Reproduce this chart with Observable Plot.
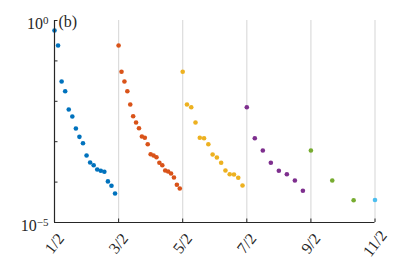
<!DOCTYPE html>
<html>
<head>
<meta charset="utf-8">
<script src="https://cdn.jsdelivr.net/npm/d3@7"></script>
<script src="https://cdn.jsdelivr.net/npm/@observablehq/plot@0.6"></script>
<style>
  html, body { margin: 0; padding: 0; background: #fff; }
</style>
</head>
<body>
<div id="chart"></div>
<script>
// x tick positions and labels
const xTickValues = [0.5, 1.5, 2.5, 3.5, 4.5, 5.5];
const xTickLabels = ["1/2", "3/2", "5/2", "7/2", "9/2", "11/2"];
const gridValues = [1.5, 2.5, 3.5, 4.5, 5.5];
// y ticks (every decade), labelled ends: base and exponent
const yTickValues = [1, 1e-1, 1e-2, 1e-3, 1e-4, 1e-5];
const yLabelTicks = [1, 1e-5];
const yLabelBase = ["10", "10"];
const yLabelExp = ["0", "−5"];
const panelLabel = "(b)";

// series: start position (group) and values
const groupStarts = [0.5, 1.5, 2.5, 3.5, 4.5, 5.5];
const groupColors = ["#0072BD", "#D95319", "#EDB120", "#7E2F8E", "#77AC30", "#4DBEEE"];
const seriesHalf1 = [0.565, 0.240, 0.0309, 0.0178, 0.00627, 0.00421, 0.00212, 0.00132, 0.000918,
  0.000455, 0.000305, 0.000262, 0.000205, 0.000191, 0.000180, 0.000104, 8.1e-5, 5.2e-5];
const seriesHalf3 = [0.240, 0.0537, 0.0309, 0.0178, 0.00834, 0.00428, 0.00299, 0.00216, 0.00135,
  0.00125, 0.000867, 0.000491, 0.000455, 0.000413, 0.000300, 0.000262, 0.000194, 0.000183,
  0.000163, 0.000130, 8.57e-5, 6.95e-5];
const seriesHalf5 = [0.0537, 0.00834, 0.00714, 0.00299, 0.00125, 0.00122, 0.000867, 0.000482,
  0.000406, 0.000300, 0.000194, 0.000157, 0.000154, 0.000128, 8.24e-5];
const seriesHalf7 = [0.00714, 0.00122, 0.000605, 0.000300, 0.000191, 0.000157, 0.000110, 6.09e-5];
const seriesHalf9 = [0.000605, 0.000110, 3.56e-5];
const seriesHalf11 = [3.6e-5];

const allSeries = [seriesHalf1, seriesHalf3, seriesHalf5, seriesHalf7, seriesHalf9, seriesHalf11];
const points = [];
allSeries.forEach((vals, g) => {
  vals.forEach((v, j) => {
    points.push({x: groupStarts[g] + j / vals.length, y: v, g});
  });
});

const W = 415, H = 260;
const mL = 54, mR = 40.5, mT = 20, mB = 38;
const plotW = W - mL - mR, plotH = H - mT - mB;
const serif = "'Liberation Serif', 'DejaVu Serif', serif";
const axisColor = "#262626";

const chart = Plot.plot({
  width: W, height: H,
  marginLeft: mL, marginRight: mR, marginTop: mT, marginBottom: mB,
  style: {fontFamily: serif, background: "#fff"},
  x: {domain: [0.5, 5.5], axis: null},
  y: {type: "log", domain: [1e-5, 1], axis: null},
  color: {domain: d3.range(groupColors.length), range: groupColors},
  marks: [
    Plot.ruleX(gridValues, {stroke: "#dcdcdc", strokeWidth: 1.2}),
    Plot.dot(points, {x: "x", y: "y", fill: "g", r: 2.3, stroke: null}),
    Plot.ruleX([0.5], {stroke: axisColor, strokeWidth: 1.2}),
    Plot.ruleY([1e-5], {stroke: axisColor, strokeWidth: 1.2}),
    Plot.tickY(yTickValues, {stroke: axisColor, strokeWidth: 1, insetRight: plotW - 3.5}),
    Plot.tickX(xTickValues, {stroke: axisColor, strokeWidth: 1, insetTop: plotH - 3.5}),
    Plot.text(yLabelTicks, {
      x: 0.5, y: d => d, text: (d, i) => yLabelBase[i] + "\u200B" + yLabelExp[i],
      textAnchor: "end", dx: -6, dy: 3, fontSize: 16, fill: "#262626", fontFamily: serif,
      className: "ylab"
    }),
    Plot.text(xTickValues, {
      x: d => d, y: 1e-5, text: (d, i) => xTickLabels[i],
      textAnchor: "middle", dy: 21, rotate: -52, fontSize: 16, fill: "#262626", fontFamily: serif
    }),
    Plot.text([panelLabel], {
      x: 0.5, y: 1, text: d => d, textAnchor: "start", dx: 4, dy: 1,
      fontSize: 16, fill: "#262626", fontFamily: serif
    })
  ]
});
chart.style.overflow = "visible";
document.getElementById("chart").append(chart);

// turn "10<exp>" labels into base + raised exponent (still real text)
d3.select(chart).selectAll("g.ylab text").each(function(d, i) {
  const t = d3.select(this);
  const [base, exp] = t.text().split("\u200B");
  t.text(null);
  t.append("tspan").text(base);
  t.append("tspan").attr("dy", "-0.45em").attr("font-size", "11px").text(exp);
});
</script>
</body>
</html>
